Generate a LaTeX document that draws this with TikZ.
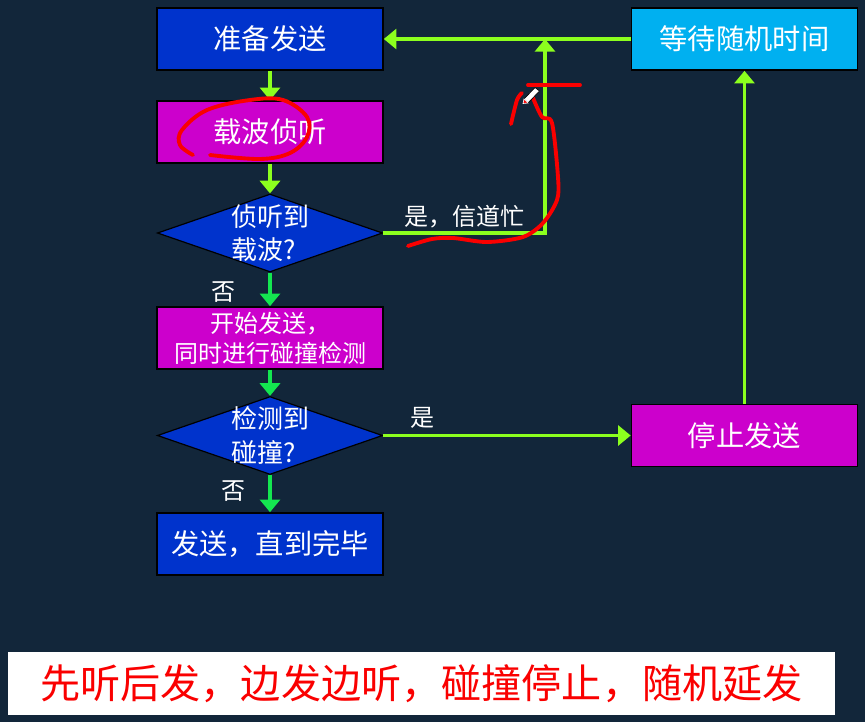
\documentclass[tikz,border=0pt]{standalone}
\usepackage{fontspec}
\setmainfont{Noto Sans CJK SC}
\usetikzlibrary{arrows.meta,shapes.geometric}
\definecolor{bgc}{HTML}{12263A}
\definecolor{blueb}{HTML}{0033CC}
\definecolor{magb}{HTML}{CC00CC}
\definecolor{cyanb}{HTML}{00B0F0}
\definecolor{lime}{HTML}{8CFF1E}
\definecolor{greena}{HTML}{14E650}
\definecolor{redp}{HTML}{FA0000}
\tikzset{
  x=0.75pt,y=-0.75pt,
  boxn/.style={draw=black,line width=1.2pt,minimum width=169.5pt,minimum height=46.5pt,inner sep=0pt,text=white,font=\fontsize{21.2}{25}\selectfont,align=center},
  dia/.style={diamond,draw=black,line width=0.9pt,fill=blueb,minimum width=169pt,minimum height=58.5pt,aspect=2.9,inner sep=0pt},
  diat/.style={text=white,font=\fontsize{19.5}{25}\selectfont,align=left,inner sep=0pt},
  lab/.style={text=white,font=\fontsize{18}{22}\selectfont,inner sep=0pt},
  arr/.style={line width=2.6pt,-{Triangle[length=9.5pt,width=15pt]}},
  limea/.style={arr,draw=lime,color=lime},
  greenb/.style={arr,draw=greena,color=greena},
  scrib/.style={draw=redp,line width=2.9pt,line cap=round,line join=round}
}
\begin{document}
\begin{tikzpicture}
\fill[bgc] (0,0) rectangle (865,722);
\useasboundingbox (0,0) rectangle (865,722);
\node[boxn,fill=blueb] (a) at (270,39) {准备发送};
\node[boxn,fill=magb] (b) at (270,132) {载波侦听};
\node[dia] (c) at (270,233) {};
\node[diat] (ct) at (270,233) {侦听到\\载波?};
\node[boxn,fill=magb,font=\fontsize{18}{22.5}\selectfont] (d) at (270,338) {开始发送，\\同时进行碰撞检测};
\node[dia] (e) at (270,435.5) {};
\node[diat] (et) at (270,435.5) {检测到\\碰撞?};
\node[boxn,fill=blueb] (f) at (270,544) {发送，直到完毕};
\node[boxn,fill=cyanb] (w) at (744.5,39) {等待随机时间};
\node[boxn,fill=magb] (s) at (744.5,435.5) {停止发送};
\coordinate (j) at (545,39);
\draw[limea] (a) -- (b);
\draw[limea] (b) -- (c);
\draw[greenb] (c) -- (d);
\draw[greenb] (d) -- (e);
\draw[greenb] (e) -- (f);
\draw[limea] (w) -- (a);
\draw[limea] (c.east) -| (j);
\draw[limea] (e.east) -- (s.west);
\draw[limea] (s) -- (w);
\node[lab] (l1) at (464,217) {是，信道忙};
\node[lab] (l2) at (223,292) {否};
\node[lab] (l3) at (422,418) {是};
\node[lab] (l4) at (233,491) {否};
\node[fill=white,minimum width=620.25pt,minimum height=47.25pt,inner sep=0pt,text=redp,font=\fontsize{30.1}{36}\selectfont] (t) at (421.5,683.5) {先听后发，边发边听，碰撞停止，随机延发};
% red pen annotations
\draw[scrib] plot[smooth,tension=0.6] coordinates {(193,155) (180,145) (182,130) (207,110) (250,100) (283,100) (307,117) (307,137) (290,153) (260,159) (210,155)};
\draw[scrib] plot[smooth,tension=0.5] coordinates {(408,246) (432,239) (453,238) (487,242) (523,237) (543,223) (557,200) (558,177) (552,123) (542,117) (533,98)};
\draw[scrib] plot[smooth,tension=0.5] coordinates {(511,124) (517,100) (522,93)};
\draw[scrib] (528,85) -- (580,85);
% pencil cursor
\fill[white,draw=black,line width=0.5pt] (524,99) -- (535,87.5) -- (539.5,91) -- (528,103) -- cycle;
\fill[redp,draw=white,line width=0.5pt] (524,99) -- (528,103) -- (523,103.5) -- cycle;
\end{tikzpicture}
\end{document}
